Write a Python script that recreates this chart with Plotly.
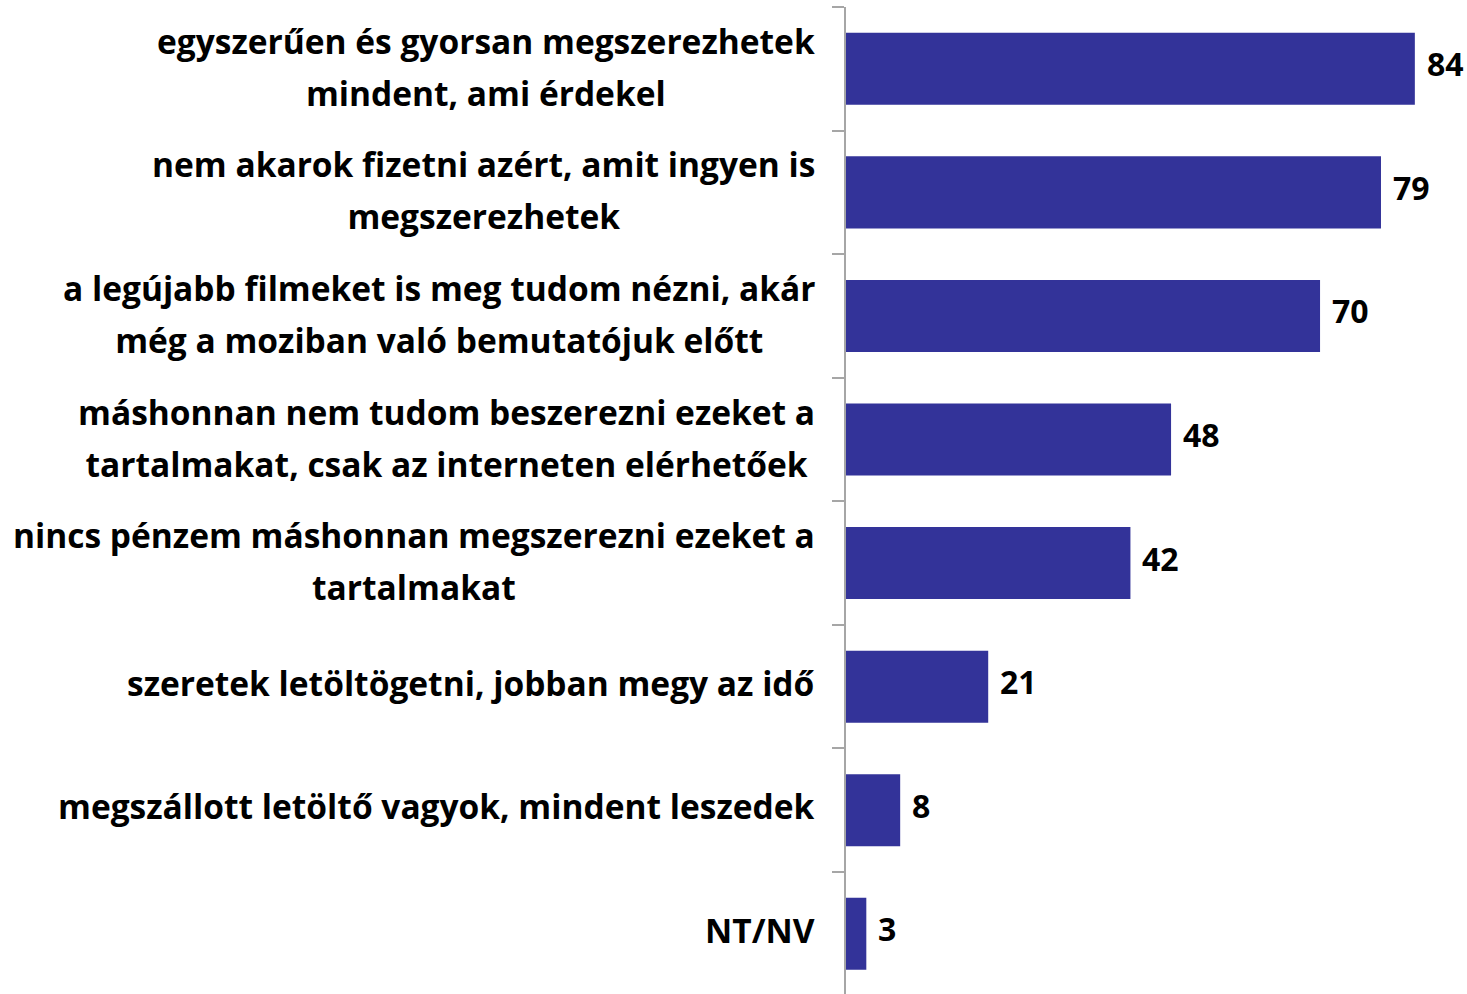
import plotly.graph_objects as go

categories = [
    "egyszerűen és gyorsan megszerezhetek<br>mindent, ami érdekel",
    "nem akarok fizetni azért, amit ingyen is<br>megszerezhetek",
    "a legújabb filmeket is meg tudom nézni, akár<br>még a moziban való bemutatójuk előtt",
    "máshonnan nem tudom beszerezni ezeket a<br>tartalmakat, csak az interneten elérhetőek",
    "nincs pénzem máshonnan megszerezni ezeket a<br>tartalmakat",
    "szeretek letöltögetni, jobban megy az idő",
    "megszállott letöltő vagyok, mindent leszedek",
    "NT/NV",
]
values = [84, 79, 70, 48, 42, 21, 8, 3]

FONT = "Open Sans"
LABEL_SIZE = 33.5
LINE_FONT = 40  # governs line spacing (1.3em = 52px)
VALUE_SIZE = 32

cats_plot = categories[::-1]
vals_plot = values[::-1]

def styled(label):
    return "<br>".join(
        "<span style='font-size:{}px'>{}</span>".format(LABEL_SIZE, part)
        for part in label.split("<br>")
    )

fig = go.Figure(go.Bar(
    x=vals_plot,
    y=cats_plot,
    orientation="h",
    marker=dict(color="#333399", line=dict(width=0)),
    width=0.583,
    cliponaxis=False,
    hoverinfo="skip",
))

annotations = []
for cat, v in zip(cats_plot, vals_plot):
    n_lines = len(cat.split("<br>"))
    annotations.append(dict(
        x=0, xref="x", y=cat, yref="y", xanchor="right", yanchor="middle",
        xshift=-29, yshift=2 if n_lines > 1 else 4, showarrow=False, align="center",
        text=styled(cat),
        font=dict(family=FONT, size=LINE_FONT, color="black", weight="bold"),
    ))
    annotations.append(dict(
        x=v, xref="x", y=cat, yref="y", xanchor="left", yanchor="middle",
        xshift=10, yshift=5, showarrow=False,
        text=str(v),
        font=dict(family=FONT, size=VALUE_SIZE, color="black", weight="bold"),
    ))

fig.update_layout(
    width=1467, height=994,
    margin=dict(l=846, r=0, t=7, b=0),
    plot_bgcolor="white", paper_bgcolor="white",
    showlegend=False,
    xaxis=dict(range=[0, 91.7], visible=False, fixedrange=True),
    yaxis=dict(
        type="category",
        categoryorder="array", categoryarray=cats_plot,
        range=[-0.487, 7.5],
        showline=True, linecolor="#A6A6A6", linewidth=2,
        ticks="outside", ticklen=12, tickcolor="#A6A6A6", tickwidth=2,
        tickson="boundaries",
        showticklabels=False,
        showgrid=False, zeroline=False,
        automargin=False, fixedrange=True,
    ),
    annotations=annotations,
)
fig.write_html(
    "out.html",
    config={"displayModeBar": False, "staticPlot": True},
    post_script="document.body.style.margin='0';document.body.style.overflow='hidden';",
)
